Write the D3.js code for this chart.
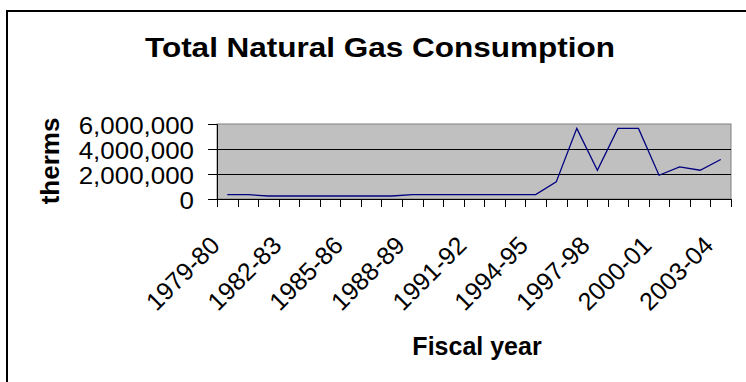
<!DOCTYPE html>
<html lang="en">
<head>
<meta charset="UTF-8">
<title>Total Natural Gas Consumption</title>
<script src="https://cdn.jsdelivr.net/npm/d3@7"></script>
<style>
  body { margin: 0; background: #fff; }
  svg text { font-family: "Liberation Sans", Arial, sans-serif; }
</style>
</head>
<body>
<div id="chart"></div>
<script>
// fiscal years and consumption (therms)
const years = ["1979-80","1980-81","1981-82","1982-83","1983-84","1984-85","1985-86",
  "1986-87","1987-88","1988-89","1989-90","1990-91","1991-92","1992-93","1993-94",
  "1994-95","1995-96","1996-97","1997-98","1998-99","1999-00","2000-01","2001-02",
  "2002-03","2003-04"];
const therms = [350000, 350000, 240000, 240000, 240000, 240000, 240000, 240000, 240000,
  350000, 350000, 350000, 350000, 350000, 350000, 350000, 1370000, 5650000, 2300000,
  5650000, 5650000, 1900000, 2570000, 2300000, 3160000];
const yTicks = [0, 2000000, 4000000, 6000000];
const shownYears = years.filter((d, i) => i % 3 === 0);

const W = 746, H = 382;
const plot = {left: 217, right: 731, top: 124, bottom: 199};

const svg = d3.select("#chart").append("svg")
    .attr("width", W)
    .attr("height", H);

// outer chart border
svg.append("rect")
    .attr("x", 7).attr("y", 11)
    .attr("width", 745).attr("height", 380)
    .attr("fill", "none")
    .attr("stroke", "#000")
    .attr("stroke-width", 2);

const x = d3.scaleBand()
    .domain(years)
    .range([plot.left, plot.right]);

const y = d3.scaleLinear()
    .domain([0, 6000000])
    .range([plot.bottom, plot.top]);

// plot area
svg.append("rect")
    .attr("x", plot.left).attr("y", plot.top)
    .attr("width", plot.right - plot.left)
    .attr("height", plot.bottom - plot.top)
    .attr("fill", "#c0c0c0")
    .attr("stroke", "#808080")
    .attr("stroke-width", 1);

// gridlines
svg.append("g")
  .selectAll("line")
  .data(yTicks.filter(d => d > 0 && d < 6000000))
  .join("line")
    .attr("x1", plot.left).attr("x2", plot.right)
    .attr("y1", d => Math.round(y(d)) + 0.5)
    .attr("y2", d => Math.round(y(d)) + 0.5)
    .attr("stroke", "#000");

// y axis
const yAxis = svg.append("g")
    .attr("transform", `translate(${plot.left},0)`)
    .call(d3.axisLeft(y).tickValues(yTicks).tickSize(9).tickPadding(14)
      .tickFormat(d3.format(",")));
yAxis.select(".domain").attr("stroke", "#000");
yAxis.selectAll("text")
    .attr("font-size", "24px")
    .attr("fill", "#000")
    .attr("dy", "0.4em")
    // the original lettering is a bit wider than Arial
    .each(function() {
      const w = this.getComputedTextLength();
      d3.select(this).attr("textLength", w * 1.08).attr("lengthAdjust", "spacingAndGlyphs");
    });

// x axis: ticks sit on band edges, as in the original
svg.append("line")
    .attr("x1", plot.left).attr("x2", plot.right)
    .attr("y1", plot.bottom + 0.5).attr("y2", plot.bottom + 0.5)
    .attr("stroke", "#000");
svg.append("g")
  .selectAll("line")
  .data(d3.range(years.length + 1))
  .join("line")
    .attr("x1", i => Math.round(plot.left + i * x.step()) + 0.5)
    .attr("x2", i => Math.round(plot.left + i * x.step()) + 0.5)
    .attr("y1", plot.bottom).attr("y2", plot.bottom + 8)
    .attr("stroke", "#000");

// rotated category labels
svg.append("g")
  .selectAll("text")
  .data(shownYears)
  .join("text")
    .attr("transform", d => `translate(${x(d) + x.bandwidth() / 2 - 6},${plot.bottom + 48}) rotate(-45)`)
    .attr("text-anchor", "end")
    .attr("font-size", "25px")
    .text(d => d);

// line
const line = d3.line()
    .x((d, i) => x(years[i]) + x.bandwidth() / 2)
    .y(d => y(d));
svg.append("path")
    .datum(therms)
    .attr("d", line)
    .attr("fill", "none")
    .attr("stroke", "#000080")
    .attr("stroke-width", 1.3);

// titles
svg.append("text")
    .attr("x", 380).attr("y", 57)
    .attr("text-anchor", "middle")
    .attr("font-size", "28px")
    .attr("font-weight", "bold")
    .attr("textLength", 470)
    .attr("lengthAdjust", "spacingAndGlyphs")
    .text("Total Natural Gas Consumption");

svg.append("text")
    .attr("x", 477).attr("y", 355)
    .attr("text-anchor", "middle")
    .attr("font-size", "25px")
    .attr("font-weight", "bold")
    .text("Fiscal year");

svg.append("text")
    .attr("transform", "translate(59,161) rotate(-90)")
    .attr("text-anchor", "middle")
    .attr("font-size", "26px")
    .attr("font-weight", "bold")
    .text("therms");
</script>
</body>
</html>
